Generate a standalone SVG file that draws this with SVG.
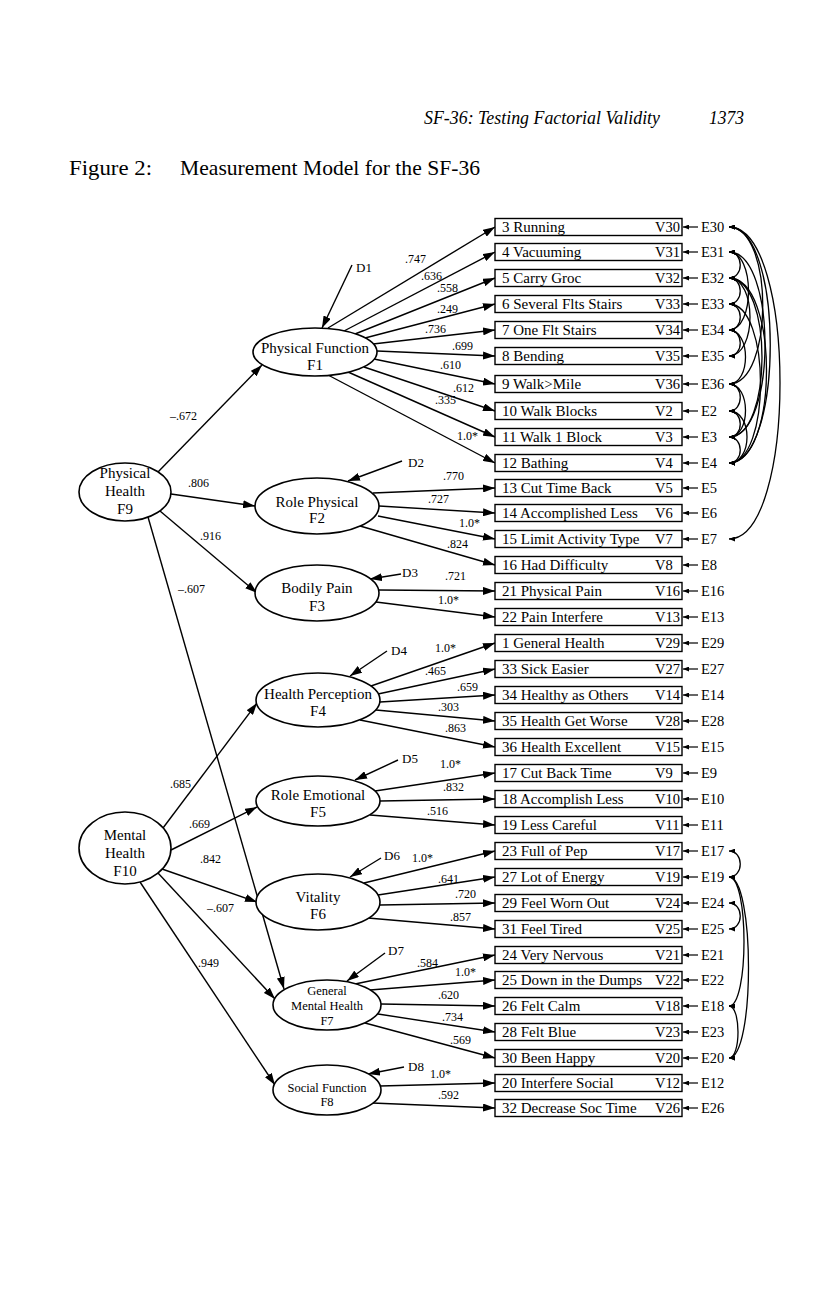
<svg xmlns="http://www.w3.org/2000/svg" width="816" height="1309" viewBox="0 0 816 1309">
<style>
text{font-family:"Liberation Serif","Times New Roman",serif;fill:#000}
.ln{stroke:#000;stroke-width:1.4;fill:none}
.ar{stroke:#000;stroke-width:1.4;fill:none;marker-end:url(#ah)}
.es{stroke:#000;stroke-width:1.2;fill:none;marker-end:url(#sm)}
.cv{stroke:#000;stroke-width:1.3;fill:none;marker-start:url(#sm2);marker-end:url(#sm2)}
.box{fill:#fff;stroke:#000;stroke-width:1.4}
.el{fill:#fff;stroke:#000;stroke-width:1.6}
.bt{font-size:15px}
.vt{font-size:14.5px}
.lb{font-size:12px}
.ft{font-size:15px;text-anchor:middle}
.fs{font-size:12.5px;text-anchor:middle}
.dt{font-size:13px}
</style>
<defs>
<marker id="ah" viewBox="0 0 12 8" refX="12" refY="4" markerWidth="12" markerHeight="8" markerUnits="userSpaceOnUse" orient="auto"><path d="M0,0 L12,4 L0,8 z" fill="#000"/></marker>
<marker id="sm" viewBox="0 0 6 5" refX="6" refY="2.5" markerWidth="6" markerHeight="5" markerUnits="userSpaceOnUse" orient="auto"><path d="M0,0 L6,2.5 L0,5 z" fill="#000"/></marker>
<marker id="sm2" viewBox="0 0 6 5" refX="6" refY="2.5" markerWidth="6" markerHeight="5" markerUnits="userSpaceOnUse" orient="auto-start-reverse"><path d="M0,0 L6,2.5 L0,5 z" fill="#000"/></marker>
</defs>
<rect width="816" height="1309" fill="#fff"/>
<g id="header">
<text x="424" y="124" font-size="18" font-style="italic" textLength="236" lengthAdjust="spacingAndGlyphs">SF-36: Testing Factorial Validity</text>
<text x="709" y="124" font-size="18" font-style="italic" textLength="35" lengthAdjust="spacingAndGlyphs">1373</text>
<text x="69" y="175" font-size="21" textLength="83" lengthAdjust="spacingAndGlyphs">Figure 2:</text>
<text x="180" y="175" font-size="21" textLength="300" lengthAdjust="spacingAndGlyphs">Measurement Model for the SF-36</text>
</g>
<g id="connectors">
<line class="ar" x1="158" y1="472" x2="262" y2="365"/>
<line class="ar" x1="171" y1="494" x2="255" y2="506"/>
<line class="ar" x1="160" y1="511" x2="257" y2="593"/>
<line class="ar" x1="148" y1="517" x2="284" y2="989"/>
<line class="ar" x1="163" y1="828" x2="257" y2="703"/>
<line class="ar" x1="171" y1="850" x2="257" y2="807"/>
<line class="ar" x1="162" y1="869" x2="257" y2="902"/>
<line class="ar" x1="158" y1="873" x2="275" y2="999"/>
<line class="ar" x1="140" y1="882" x2="275" y2="1085"/>
<line class="ar" x1="352" y1="265" x2="322" y2="328"/>
<line class="ar" x1="402" y1="461" x2="348" y2="481"/>
<line class="ar" x1="401" y1="574" x2="370" y2="579"/>
<line class="ar" x1="387" y1="651" x2="350" y2="676"/>
<line class="ar" x1="398" y1="760" x2="355" y2="780"/>
<line class="ar" x1="381" y1="858" x2="350" y2="877"/>
<line class="ar" x1="385" y1="953" x2="347" y2="981"/>
<line class="ar" x1="404" y1="1067" x2="368" y2="1074"/>
<line class="ar" x1="328" y1="328" x2="495" y2="227"/>
<line class="ar" x1="344" y1="331" x2="495" y2="252"/>
<line class="ar" x1="355" y1="334" x2="495" y2="278"/>
<line class="ar" x1="365" y1="338" x2="495" y2="304"/>
<line class="ar" x1="373" y1="344" x2="495" y2="330"/>
<line class="ar" x1="377" y1="351" x2="495" y2="356"/>
<line class="ar" x1="374" y1="359" x2="495" y2="384"/>
<line class="ar" x1="364" y1="367" x2="495" y2="411"/>
<line class="ar" x1="348" y1="372" x2="495" y2="437"/>
<line class="ar" x1="328" y1="375" x2="495" y2="463"/>
<line class="ar" x1="373" y1="493" x2="495" y2="488"/>
<line class="ar" x1="379" y1="506" x2="495" y2="513"/>
<line class="ar" x1="378" y1="516" x2="495" y2="539"/>
<line class="ar" x1="360" y1="526" x2="495" y2="565"/>
<line class="ar" x1="379" y1="590" x2="495" y2="591"/>
<line class="ar" x1="376" y1="602" x2="495" y2="617"/>
<line class="ar" x1="371" y1="686" x2="495" y2="643"/>
<line class="ar" x1="378" y1="694" x2="495" y2="669"/>
<line class="ar" x1="380" y1="702" x2="495" y2="695"/>
<line class="ar" x1="376" y1="710" x2="495" y2="721"/>
<line class="ar" x1="360" y1="720" x2="495" y2="747"/>
<line class="ar" x1="375" y1="791" x2="495" y2="773"/>
<line class="ar" x1="380" y1="801" x2="495" y2="799"/>
<line class="ar" x1="370" y1="815" x2="495" y2="825"/>
<line class="ar" x1="364" y1="883" x2="495" y2="851"/>
<line class="ar" x1="378" y1="895" x2="495" y2="877"/>
<line class="ar" x1="380" y1="905" x2="495" y2="903"/>
<line class="ar" x1="368" y1="918" x2="495" y2="929"/>
<line class="ar" x1="355" y1="984" x2="495" y2="955"/>
<line class="ar" x1="370" y1="990" x2="495" y2="980"/>
<line class="ar" x1="381" y1="1004" x2="495" y2="1006"/>
<line class="ar" x1="378" y1="1014" x2="495" y2="1032"/>
<line class="ar" x1="365" y1="1023" x2="495" y2="1058"/>
<line class="ar" x1="380" y1="1086" x2="495" y2="1083"/>
<line class="ar" x1="372" y1="1103" x2="495" y2="1108"/>
<line class="es" x1="698" y1="227" x2="683" y2="227"/>
<line class="es" x1="698" y1="252" x2="683" y2="252"/>
<line class="es" x1="698" y1="278" x2="683" y2="278"/>
<line class="es" x1="698" y1="304" x2="683" y2="304"/>
<line class="es" x1="698" y1="330" x2="683" y2="330"/>
<line class="es" x1="698" y1="356" x2="683" y2="356"/>
<line class="es" x1="698" y1="384" x2="683" y2="384"/>
<line class="es" x1="698" y1="411" x2="683" y2="411"/>
<line class="es" x1="698" y1="437" x2="683" y2="437"/>
<line class="es" x1="698" y1="463" x2="683" y2="463"/>
<line class="es" x1="698" y1="488" x2="683" y2="488"/>
<line class="es" x1="698" y1="513" x2="683" y2="513"/>
<line class="es" x1="698" y1="539" x2="683" y2="539"/>
<line class="es" x1="698" y1="565" x2="683" y2="565"/>
<line class="es" x1="698" y1="591" x2="683" y2="591"/>
<line class="es" x1="698" y1="617" x2="683" y2="617"/>
<line class="es" x1="698" y1="643" x2="683" y2="643"/>
<line class="es" x1="698" y1="669" x2="683" y2="669"/>
<line class="es" x1="698" y1="695" x2="683" y2="695"/>
<line class="es" x1="698" y1="721" x2="683" y2="721"/>
<line class="es" x1="698" y1="747" x2="683" y2="747"/>
<line class="es" x1="698" y1="773" x2="683" y2="773"/>
<line class="es" x1="698" y1="799" x2="683" y2="799"/>
<line class="es" x1="698" y1="825" x2="683" y2="825"/>
<line class="es" x1="698" y1="851" x2="683" y2="851"/>
<line class="es" x1="698" y1="877" x2="683" y2="877"/>
<line class="es" x1="698" y1="903" x2="683" y2="903"/>
<line class="es" x1="698" y1="929" x2="683" y2="929"/>
<line class="es" x1="698" y1="955" x2="683" y2="955"/>
<line class="es" x1="698" y1="980" x2="683" y2="980"/>
<line class="es" x1="698" y1="1006" x2="683" y2="1006"/>
<line class="es" x1="698" y1="1032" x2="683" y2="1032"/>
<line class="es" x1="698" y1="1058" x2="683" y2="1058"/>
<line class="es" x1="698" y1="1083" x2="683" y2="1083"/>
<line class="es" x1="698" y1="1108" x2="683" y2="1108"/>
<path class="cv" d="M729,252 C744,252 744,278 729,278"/>
<path class="cv" d="M729,278 C744,278 744,304 729,304"/>
<path class="cv" d="M729,304 C744,304 744,330 729,330"/>
<path class="cv" d="M729,330 C744,330 744,356 729,356"/>
<path class="cv" d="M729,384 C744,384 744,411 729,411"/>
<path class="cv" d="M729,411 C744,411 744,437 729,437"/>
<path class="cv" d="M729,437 C744,437 744,463 729,463"/>
<path class="cv" d="M729,278 C757,278 757,356 729,356"/>
<path class="cv" d="M729,252 C755,252 755,330 729,330"/>
<path class="cv" d="M729,330 C751,330 751,384 729,384"/>
<path class="cv" d="M729,384 C751,384 751,437 729,437"/>
<path class="cv" d="M729,411 C753,411 753,463 729,463"/>
<path class="cv" d="M729,227 C774,227 774,384 729,384"/>
<path class="cv" d="M729,227 C784,227 784,463 729,463"/>
<path class="cv" d="M729,227 C797,227 797,539 729,539"/>
<path class="cv" d="M729,252 C777,252 777,437 729,437"/>
<path class="cv" d="M729,278 C773,278 773,437 729,437"/>
<path class="cv" d="M729,278 C779,278 779,463 729,463"/>
<path class="cv" d="M729,304 C771,304 771,463 729,463"/>
<path class="cv" d="M729,851 C744,851 744,877 729,877"/>
<path class="cv" d="M729,903 C744,903 744,929 729,929"/>
<path class="cv" d="M729,877 C749,877 749,1006 729,1006"/>
<path class="cv" d="M729,877 C755,877 755,1058 729,1058"/>
<path class="cv" d="M729,1006 C741,1006 741,1058 729,1058"/>
</g>
<g id="path-labels">
<text class="lb" x="170" y="420">–.672</text>
<text class="lb" x="188" y="487">.806</text>
<text class="lb" x="200" y="540">.916</text>
<text class="lb" x="178" y="593">–.607</text>
<text class="lb" x="170" y="788">.685</text>
<text class="lb" x="189" y="828">.669</text>
<text class="lb" x="200" y="863">.842</text>
<text class="lb" x="207" y="912">–.607</text>
<text class="lb" x="198" y="967">.949</text>
<text class="lb" x="405" y="263">.747</text>
<text class="lb" x="421" y="280">.636</text>
<text class="lb" x="437" y="292">.558</text>
<text class="lb" x="437" y="313">.249</text>
<text class="lb" x="425" y="333">.736</text>
<text class="lb" x="452" y="350">.699</text>
<text class="lb" x="440" y="369">.610</text>
<text class="lb" x="453" y="392">.612</text>
<text class="lb" x="435" y="404">.335</text>
<text class="lb" x="457" y="440">1.0*</text>
<text class="lb" x="443" y="480">.770</text>
<text class="lb" x="428" y="503">.727</text>
<text class="lb" x="459" y="527">1.0*</text>
<text class="lb" x="447" y="548">.824</text>
<text class="lb" x="445" y="580">.721</text>
<text class="lb" x="438" y="604">1.0*</text>
<text class="lb" x="435" y="652">1.0*</text>
<text class="lb" x="425" y="675">.465</text>
<text class="lb" x="457" y="691">.659</text>
<text class="lb" x="438" y="711">.303</text>
<text class="lb" x="445" y="732">.863</text>
<text class="lb" x="440" y="768">1.0*</text>
<text class="lb" x="443" y="791">.832</text>
<text class="lb" x="427" y="815">.516</text>
<text class="lb" x="412" y="862">1.0*</text>
<text class="lb" x="438" y="883">.641</text>
<text class="lb" x="455" y="898">.720</text>
<text class="lb" x="450" y="921">.857</text>
<text class="lb" x="417" y="967">.584</text>
<text class="lb" x="455" y="976">1.0*</text>
<text class="lb" x="438" y="999">.620</text>
<text class="lb" x="442" y="1021">.734</text>
<text class="lb" x="450" y="1044">.569</text>
<text class="lb" x="430" y="1078">1.0*</text>
<text class="lb" x="438" y="1099">.592</text>
</g>
<g id="disturbances">
<text class="dt" x="356" y="272">D1</text>
<text class="dt" x="408" y="467">D2</text>
<text class="dt" x="402" y="577">D3</text>
<text class="dt" x="391" y="655">D4</text>
<text class="dt" x="402" y="763">D5</text>
<text class="dt" x="384" y="860">D6</text>
<text class="dt" x="388" y="955">D7</text>
<text class="dt" x="408" y="1071">D8</text>
</g>
<g id="F9"><ellipse class="el" cx="125" cy="492" rx="46" ry="29"/><text class="ft" x="125" y="478">Physical</text><text class="ft" x="125" y="496">Health</text><text class="ft" x="125" y="514">F9</text></g>
<g id="F10"><ellipse class="el" cx="125" cy="848" rx="46" ry="36"/><text class="ft" x="125" y="840">Mental</text><text class="ft" x="125" y="858">Health</text><text class="ft" x="125" y="876">F10</text></g>
<g id="F1"><ellipse class="el" cx="315" cy="352" rx="62" ry="24"/><text class="ft" x="315" y="353">Physical Function</text><text class="ft" x="315" y="370">F1</text></g>
<g id="F2"><ellipse class="el" cx="317" cy="506" rx="62" ry="28"/><text class="ft" x="317" y="507">Role Physical</text><text class="ft" x="317" y="523">F2</text></g>
<g id="F3"><ellipse class="el" cx="317" cy="593" rx="62" ry="28"/><text class="ft" x="317" y="593">Bodily Pain</text><text class="ft" x="317" y="611">F3</text></g>
<g id="F4"><ellipse class="el" cx="318" cy="700" rx="62" ry="27"/><text class="ft" x="318" y="699">Health Perception</text><text class="ft" x="318" y="716">F4</text></g>
<g id="F5"><ellipse class="el" cx="318" cy="801" rx="62" ry="25"/><text class="ft" x="318" y="800">Role Emotional</text><text class="ft" x="318" y="817">F5</text></g>
<g id="F6"><ellipse class="el" cx="318" cy="902" rx="62" ry="28"/><text class="ft" x="318" y="902">Vitality</text><text class="ft" x="318" y="919">F6</text></g>
<g id="F7"><ellipse class="el" cx="327" cy="1005" rx="54" ry="25"/><text class="fs" x="327" y="995">General</text><text class="fs" x="327" y="1010">Mental Health</text><text class="fs" x="327" y="1025">F7</text></g>
<g id="F8"><ellipse class="el" cx="327" cy="1090" rx="54" ry="25"/><text class="fs" x="327" y="1092">Social Function</text><text class="fs" x="327" y="1106">F8</text></g>
<g id="V30"><rect class="box" x="495" y="218.5" width="187" height="17"/><text class="bt" x="502" y="232">3 Running</text><text class="vt" x="655" y="232">V30</text><text class="vt" x="701" y="232">E30</text></g>
<g id="V31"><rect class="box" x="495" y="243.5" width="187" height="17"/><text class="bt" x="502" y="257">4 Vacuuming</text><text class="vt" x="655" y="257">V31</text><text class="vt" x="701" y="257">E31</text></g>
<g id="V32"><rect class="box" x="495" y="269.5" width="187" height="17"/><text class="bt" x="502" y="283">5 Carry Groc</text><text class="vt" x="655" y="283">V32</text><text class="vt" x="701" y="283">E32</text></g>
<g id="V33"><rect class="box" x="495" y="295.5" width="187" height="17"/><text class="bt" x="502" y="309">6 Several Flts Stairs</text><text class="vt" x="655" y="309">V33</text><text class="vt" x="701" y="309">E33</text></g>
<g id="V34"><rect class="box" x="495" y="321.5" width="187" height="17"/><text class="bt" x="502" y="335">7 One Flt Stairs</text><text class="vt" x="655" y="335">V34</text><text class="vt" x="701" y="335">E34</text></g>
<g id="V35"><rect class="box" x="495" y="347.5" width="187" height="17"/><text class="bt" x="502" y="361">8 Bending</text><text class="vt" x="655" y="361">V35</text><text class="vt" x="701" y="361">E35</text></g>
<g id="V36"><rect class="box" x="495" y="375.5" width="187" height="17"/><text class="bt" x="502" y="389">9 Walk&gt;Mile</text><text class="vt" x="655" y="389">V36</text><text class="vt" x="701" y="389">E36</text></g>
<g id="V2"><rect class="box" x="495" y="402.5" width="187" height="17"/><text class="bt" x="502" y="416">10 Walk Blocks</text><text class="vt" x="655" y="416">V2</text><text class="vt" x="701" y="416">E2</text></g>
<g id="V3"><rect class="box" x="495" y="428.5" width="187" height="17"/><text class="bt" x="502" y="442">11 Walk 1 Block</text><text class="vt" x="655" y="442">V3</text><text class="vt" x="701" y="442">E3</text></g>
<g id="V4"><rect class="box" x="495" y="454.5" width="187" height="17"/><text class="bt" x="502" y="468">12 Bathing</text><text class="vt" x="655" y="468">V4</text><text class="vt" x="701" y="468">E4</text></g>
<g id="V5"><rect class="box" x="495" y="479.5" width="187" height="17"/><text class="bt" x="502" y="493">13 Cut Time Back</text><text class="vt" x="655" y="493">V5</text><text class="vt" x="701" y="493">E5</text></g>
<g id="V6"><rect class="box" x="495" y="504.5" width="187" height="17"/><text class="bt" x="502" y="518">14 Accomplished Less</text><text class="vt" x="655" y="518">V6</text><text class="vt" x="701" y="518">E6</text></g>
<g id="V7"><rect class="box" x="495" y="530.5" width="187" height="17"/><text class="bt" x="502" y="544">15 Limit Activity Type</text><text class="vt" x="655" y="544">V7</text><text class="vt" x="701" y="544">E7</text></g>
<g id="V8"><rect class="box" x="495" y="556.5" width="187" height="17"/><text class="bt" x="502" y="570">16 Had Difficulty</text><text class="vt" x="655" y="570">V8</text><text class="vt" x="701" y="570">E8</text></g>
<g id="V16"><rect class="box" x="495" y="582.5" width="187" height="17"/><text class="bt" x="502" y="596">21 Physical Pain</text><text class="vt" x="655" y="596">V16</text><text class="vt" x="701" y="596">E16</text></g>
<g id="V13"><rect class="box" x="495" y="608.5" width="187" height="17"/><text class="bt" x="502" y="622">22 Pain Interfere</text><text class="vt" x="655" y="622">V13</text><text class="vt" x="701" y="622">E13</text></g>
<g id="V29"><rect class="box" x="495" y="634.5" width="187" height="17"/><text class="bt" x="502" y="648">1 General Health</text><text class="vt" x="655" y="648">V29</text><text class="vt" x="701" y="648">E29</text></g>
<g id="V27"><rect class="box" x="495" y="660.5" width="187" height="17"/><text class="bt" x="502" y="674">33 Sick Easier</text><text class="vt" x="655" y="674">V27</text><text class="vt" x="701" y="674">E27</text></g>
<g id="V14"><rect class="box" x="495" y="686.5" width="187" height="17"/><text class="bt" x="502" y="700">34 Healthy as Others</text><text class="vt" x="655" y="700">V14</text><text class="vt" x="701" y="700">E14</text></g>
<g id="V28"><rect class="box" x="495" y="712.5" width="187" height="17"/><text class="bt" x="502" y="726">35 Health Get Worse</text><text class="vt" x="655" y="726">V28</text><text class="vt" x="701" y="726">E28</text></g>
<g id="V15"><rect class="box" x="495" y="738.5" width="187" height="17"/><text class="bt" x="502" y="752">36 Health Excellent</text><text class="vt" x="655" y="752">V15</text><text class="vt" x="701" y="752">E15</text></g>
<g id="V9"><rect class="box" x="495" y="764.5" width="187" height="17"/><text class="bt" x="502" y="778">17 Cut Back Time</text><text class="vt" x="655" y="778">V9</text><text class="vt" x="701" y="778">E9</text></g>
<g id="V10"><rect class="box" x="495" y="790.5" width="187" height="17"/><text class="bt" x="502" y="804">18 Accomplish Less</text><text class="vt" x="655" y="804">V10</text><text class="vt" x="701" y="804">E10</text></g>
<g id="V11"><rect class="box" x="495" y="816.5" width="187" height="17"/><text class="bt" x="502" y="830">19 Less Careful</text><text class="vt" x="655" y="830">V11</text><text class="vt" x="701" y="830">E11</text></g>
<g id="V17"><rect class="box" x="495" y="842.5" width="187" height="17"/><text class="bt" x="502" y="856">23 Full of Pep</text><text class="vt" x="655" y="856">V17</text><text class="vt" x="701" y="856">E17</text></g>
<g id="V19"><rect class="box" x="495" y="868.5" width="187" height="17"/><text class="bt" x="502" y="882">27 Lot of Energy</text><text class="vt" x="655" y="882">V19</text><text class="vt" x="701" y="882">E19</text></g>
<g id="V24"><rect class="box" x="495" y="894.5" width="187" height="17"/><text class="bt" x="502" y="908">29 Feel Worn Out</text><text class="vt" x="655" y="908">V24</text><text class="vt" x="701" y="908">E24</text></g>
<g id="V25"><rect class="box" x="495" y="920.5" width="187" height="17"/><text class="bt" x="502" y="934">31 Feel Tired</text><text class="vt" x="655" y="934">V25</text><text class="vt" x="701" y="934">E25</text></g>
<g id="V21"><rect class="box" x="495" y="946.5" width="187" height="17"/><text class="bt" x="502" y="960">24 Very Nervous</text><text class="vt" x="655" y="960">V21</text><text class="vt" x="701" y="960">E21</text></g>
<g id="V22"><rect class="box" x="495" y="971.5" width="187" height="17"/><text class="bt" x="502" y="985">25 Down in the Dumps</text><text class="vt" x="655" y="985">V22</text><text class="vt" x="701" y="985">E22</text></g>
<g id="V18"><rect class="box" x="495" y="997.5" width="187" height="17"/><text class="bt" x="502" y="1011">26 Felt Calm</text><text class="vt" x="655" y="1011">V18</text><text class="vt" x="701" y="1011">E18</text></g>
<g id="V23"><rect class="box" x="495" y="1023.5" width="187" height="17"/><text class="bt" x="502" y="1037">28 Felt Blue</text><text class="vt" x="655" y="1037">V23</text><text class="vt" x="701" y="1037">E23</text></g>
<g id="V20"><rect class="box" x="495" y="1049.5" width="187" height="17"/><text class="bt" x="502" y="1063">30 Been Happy</text><text class="vt" x="655" y="1063">V20</text><text class="vt" x="701" y="1063">E20</text></g>
<g id="V12"><rect class="box" x="495" y="1074.5" width="187" height="17"/><text class="bt" x="502" y="1088">20 Interfere Social</text><text class="vt" x="655" y="1088">V12</text><text class="vt" x="701" y="1088">E12</text></g>
<g id="V26"><rect class="box" x="495" y="1099.5" width="187" height="17"/><text class="bt" x="502" y="1113">32 Decrease Soc Time</text><text class="vt" x="655" y="1113">V26</text><text class="vt" x="701" y="1113">E26</text></g>
</svg>
